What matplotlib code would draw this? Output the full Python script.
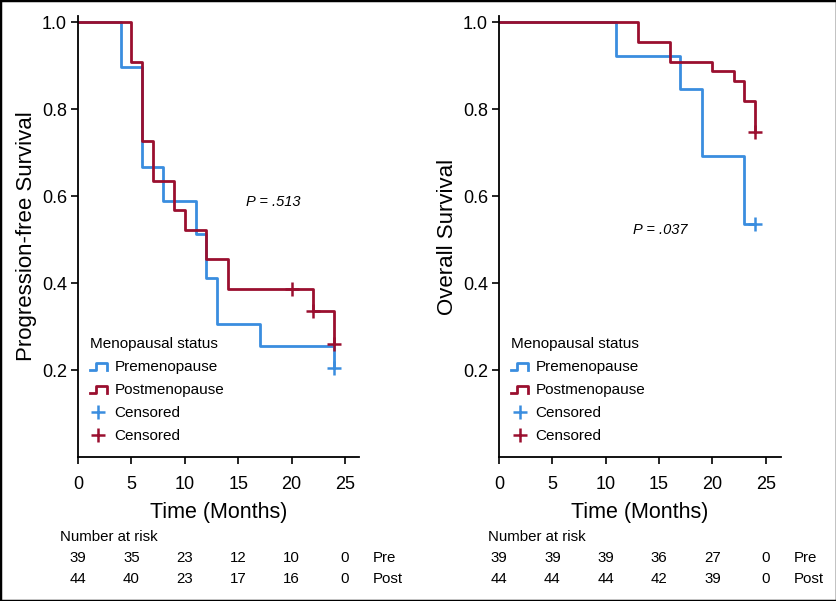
import matplotlib
matplotlib.use('Agg')
import matplotlib.pyplot as plt
import matplotlib.transforms as mtransforms
from matplotlib.legend_handler import HandlerBase
from matplotlib.lines import Line2D
from matplotlib.patches import Rectangle

plt.rcParams['font.family'] = ['Liberation Sans', 'DejaVu Sans']

BLUE = '#3a8ddf'
RED = '#9a0f2f'

# Progression-free survival
pfs_pre_t = [0, 4, 6, 8, 11, 12, 13, 17, 24]
pfs_pre_s = [1.0, 0.897, 0.667, 0.589, 0.512, 0.411, 0.306, 0.256, 0.205]
pfs_pre_cens_t = [24]
pfs_pre_cens_s = [0.205]
pfs_post_t = [0, 5, 6, 7, 9, 10, 12, 14, 22, 24]
pfs_post_s = [1.0, 0.909, 0.727, 0.636, 0.568, 0.522, 0.455, 0.386, 0.336, 0.259]
pfs_post_cens_t = [20, 22, 24]
pfs_post_cens_s = [0.386, 0.336, 0.259]

# Overall survival
os_pre_t = [0, 11, 17, 19, 23, 24]
os_pre_s = [1.0, 0.923, 0.846, 0.693, 0.537, 0.537]
os_pre_cens_t = [24]
os_pre_cens_s = [0.537]
os_post_t = [0, 13, 16, 20, 22, 23, 24]
os_post_s = [1.0, 0.955, 0.908, 0.887, 0.864, 0.818, 0.748]
os_post_cens_t = [24]
os_post_cens_s = [0.748]

# number at risk
risk_times = [0, 5, 10, 15, 20, 25]
pfs_risk_pre = [39, 35, 23, 12, 10, 0]
pfs_risk_post = [44, 40, 23, 17, 16, 0]
os_risk_pre = [39, 39, 39, 36, 27, 0]
os_risk_post = [44, 44, 44, 42, 39, 0]


class StepHandler(HandlerBase):
    def create_artists(self, legend, orig_handle, xdescent, ydescent,
                       width, height, fontsize, trans):
        x0 = -xdescent
        y0 = -ydescent + height * 0.05
        y1 = -ydescent + height * 0.75
        xs = [x0, x0 + width * 0.35, x0 + width * 0.35, x0 + width, x0 + width]
        ys = [y0, y0, y1, y1, y0]
        ln = Line2D(xs, ys, color=orig_handle.get_color(), lw=2, transform=trans)
        return [ln]


fig = plt.figure(figsize=(8.37, 6.01), dpi=100)
fig.patches.append(Rectangle((0, 0), 1, 1, transform=fig.transFigure,
                             fill=False, edgecolor='black', lw=2.5))

ax1 = fig.add_axes([0.0932, 0.2396, 0.3357, 0.7338])
ax2 = fig.add_axes([0.5962, 0.2396, 0.3366, 0.7338])

panels = [
    (ax1, pfs_pre_t, pfs_pre_s, pfs_pre_cens_t, pfs_pre_cens_s,
     pfs_post_t, pfs_post_s, pfs_post_cens_t, pfs_post_cens_s,
     'Progression-free Survival', 'P = .513', (18.3, 0.586),
     pfs_risk_pre, pfs_risk_post, 0.0717, 26.3),
    (ax2, os_pre_t, os_pre_s, os_pre_cens_t, os_pre_cens_s,
     os_post_t, os_post_s, os_post_cens_t, os_post_cens_s,
     'Overall Survival', 'P = .037', (15.1, 0.522),
     os_risk_pre, os_risk_post, 0.583, 26.4),
]

for (ax, pre_t, pre_s, pre_ct, pre_cs, post_t, post_s, post_ct, post_cs,
     ylab, ptxt, ppos, rpre, rpost, nx, xmax) in panels:
    l1, = ax.step(pre_t, pre_s, where='post', color=BLUE, lw=2)
    l2, = ax.step(post_t, post_s, where='post', color=RED, lw=2)
    c1, = ax.plot(pre_ct, pre_cs, '+', color=BLUE, ms=10, mew=1.8, ls='none')
    c2, = ax.plot(post_ct, post_cs, '+', color=RED, ms=10, mew=1.8, ls='none')

    ax.set_xlim(0, xmax)
    ax.set_ylim(0, 1.0145)
    ax.set_xticks([0, 5, 10, 15, 20, 25])
    ax.set_yticks([0.2, 0.4, 0.6, 0.8, 1.0])
    ax.set_yticklabels(['0.2', '0.4', '0.6', '0.8', '1.0'])
    for s in ['top', 'right']:
        ax.spines[s].set_visible(False)
    for s in ['left', 'bottom']:
        ax.spines[s].set_linewidth(1.3)
    ax.tick_params(direction='out', length=5, width=1.2, labelsize=13)
    ax.tick_params(axis='x', pad=9)
    ax.tick_params(axis='y', pad=3)
    ax.set_xlabel('Time (Months)', fontsize=15.5, labelpad=6)
    ax.set_ylabel(ylab, fontsize=16, labelpad=3.5)

    ax.text(ppos[0], ppos[1], ptxt, fontsize=10.5, style='italic',
            ha='center', va='center')

    leg = ax.legend([l1, l2, c1, c2],
                    ['Premenopause', 'Postmenopause', 'Censored', 'Censored'],
                    handler_map={l1: StepHandler(), l2: StepHandler()},
                    title='Menopausal status', title_fontsize=11, fontsize=11,
                    loc='upper left', bbox_to_anchor=(0.043, 0.273),
                    frameon=False, borderpad=0, borderaxespad=0,
                    handlelength=1.1, handletextpad=0.5, labelspacing=0.6,
                    alignment='left')

    tr = mtransforms.blended_transform_factory(ax.transData, fig.transFigure)
    fig.text(nx, 0.1065, 'Number at risk', fontsize=10.8, ha='left', va='center')
    for t, a, b in zip(risk_times, rpre, rpost):
        ax.text(t, 0.0715, str(a), transform=tr, fontsize=10.8, ha='center', va='center')
        ax.text(t, 0.0366, str(b), transform=tr, fontsize=10.8, ha='center', va='center')
    ax.text(27.6, 0.0715, 'Pre', transform=tr, fontsize=10.8, ha='left', va='center')
    ax.text(27.6, 0.0366, 'Post', transform=tr, fontsize=10.8, ha='left', va='center')

fig.savefig('out.png', dpi=100)
